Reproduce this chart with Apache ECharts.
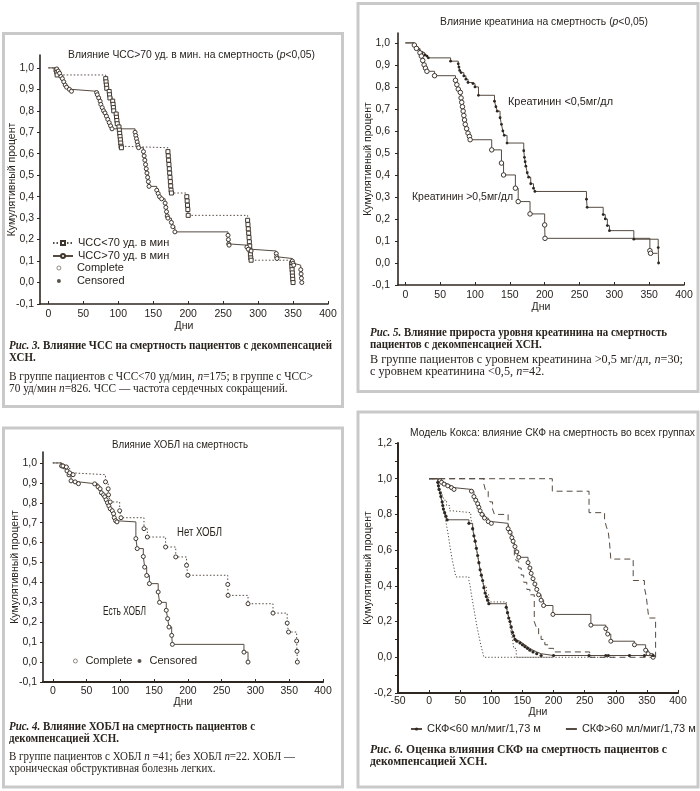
<!DOCTYPE html>
<html><head><meta charset="utf-8">
<script src="https://cdn.jsdelivr.net/npm/echarts@6/dist/echarts.min.js"></script>
<style>html,body{margin:0;padding:0;background:#fff}#c{width:700px;height:791px}</style>
</head><body><div id="c"></div>
<script>
// ---------- tick labels ----------
const xTicks = [0, 50, 100, 150, 200, 250, 300, 350, 400];
const yTicks = [-0.1, 0, 0.1, 0.2, 0.3, 0.4, 0.5, 0.6, 0.7, 0.8, 0.9, 1.0];

// ---------- Рис. 3: ЧСС ----------
const hrLowEvents = [[11,0.99],[12,0.98],[12.5,0.967],[82,0.95],[82.5,0.935],[83,0.92],[83.5,0.905],[87,0.89],[87.5,0.875],[88,0.86],[92,0.845],[92.5,0.83],[93,0.815],[93.5,0.8],[97,0.785],[97.5,0.77],[98,0.755],[98.5,0.74],[101,0.725],[101.5,0.71],[102,0.695],[102.5,0.68],[103,0.665],[103.5,0.65],[104,0.635],[104.5,0.628],[171,0.61],[171.5,0.59],[172,0.57],[172.5,0.55],[173,0.53],[173.5,0.51],[174,0.49],[174.5,0.47],[175,0.45],[175.5,0.43],[176,0.417],[198,0.4],[198.5,0.38],[199,0.36],[199.5,0.34],[200,0.313],[285,0.29],[285.5,0.27],[286,0.25],[286.5,0.23],[287,0.21],[287.5,0.19],[288,0.17],[288.5,0.15],[289,0.13],[289.5,0.115],[290,0.104],[348,0.09],[348.3,0.075],[348.6,0.06],[349,0.045],[349.3,0.03],[349.6,0.015],[350,0.0]];
const hrHighEvents = [[12,0.995],[14,0.985],[16,0.975],[18,0.96],[20,0.95],[22,0.935],[24,0.92],[26,0.91],[30,0.9],[33,0.891],[69,0.885],[70,0.875],[72,0.86],[74,0.845],[75,0.83],[77,0.815],[79,0.8],[81,0.79],[83,0.775],[85,0.76],[87,0.745],[89,0.73],[91,0.716],[124,0.7],[125,0.685],[126,0.67],[127,0.655],[128,0.64],[129,0.628],[136,0.61],[137,0.59],[138,0.57],[139,0.55],[140,0.53],[141,0.51],[142,0.49],[143,0.47],[144,0.448],[155,0.43],[157,0.415],[159,0.4],[162,0.39],[167,0.37],[168,0.35],[169,0.33],[170,0.31],[171,0.3],[176,0.28],[178,0.26],[181,0.236],[257,0.22],[257.5,0.2],[258,0.18],[258.5,0.174],[284,0.165],[286,0.155],[290,0.147],[326,0.135],[326.5,0.12],[327,0.112],[349,0.1],[350,0.09],[351,0.081],[361,0.06],[361.5,0.04],[362,0.02],[362.5,0.0]];

// ---------- Рис. 5: креатинин ----------
const creatLowEvents = [[13,0.99],[15,0.98],[17,0.97],[21,0.96],[24,0.955],[28,0.945],[31,0.94],[33,0.932],[65,0.917],[76,0.905],[77,0.89],[78,0.875],[80,0.865],[84,0.85],[87,0.835],[90,0.82],[97,0.815],[100,0.8],[105,0.762],[128,0.735],[130,0.71],[132,0.69],[136,0.66],[138,0.63],[140,0.6],[142,0.58],[146,0.545],[170,0.51],[171,0.48],[172,0.46],[173,0.44],[175,0.41],[177,0.39],[180,0.36],[184,0.34],[186,0.325],[260,0.29],[261,0.253],[284,0.22],[287,0.2],[290,0.17],[293,0.147],[328,0.108],[363,0.07],[363.5,0.0]];
const creatHighEvents = [[13,0.99],[16,0.975],[21,0.955],[23,0.94],[25,0.92],[27,0.9],[29,0.885],[31,0.871],[42,0.851],[72,0.83],[74,0.81],[76,0.79],[79,0.775],[80,0.75],[81,0.73],[82,0.71],[83,0.69],[84,0.67],[85,0.65],[86,0.63],[88,0.61],[90,0.59],[92,0.575],[93,0.56],[124,0.514],[138,0.454],[141,0.4],[158,0.34],[162,0.279],[179,0.223],[200,0.173],[200.5,0.112],[351,0.056],[352,0.044]];
const creatHighEnd = 362;

// ---------- Рис. 4: ХОБЛ ----------
const copdYesEvents = [[13,0.985],[17,0.98],[21,0.96],[24,0.94],[27,0.91],[33,0.905],[38,0.896],[62,0.895],[67,0.88],[70,0.87],[72,0.85],[75,0.84],[77,0.83],[79,0.815],[81,0.8],[83,0.785],[85,0.77],[88,0.76],[90,0.745],[91,0.725],[93,0.71],[95,0.704],[123,0.62],[125,0.57],[134,0.53],[136,0.477],[139,0.435],[143,0.394],[156,0.352],[158,0.3],[168,0.26],[170,0.218],[172,0.176],[176,0.134],[177,0.089],[283,0.05],[289,0.0]];
const copdNoEvents = [[15,0.985],[20,0.98],[25,0.95],[30,0.941],[78,0.905],[82,0.87],[82.5,0.84],[85,0.804],[99,0.76],[101,0.725],[135,0.67],[140,0.628],[167,0.578],[182,0.528],[198,0.486],[200,0.436],[259,0.39],[259.5,0.335],[289,0.293],[326,0.246],[347,0.196],[349,0.151],[361,0.106],[361.5,0.054],[362,0.0]];

// ---------- Рис. 6: СКФ (модель Кокса) ----------
const coxXTicks = [-50, 0, 50, 100, 150, 200, 250, 300, 350, 400];
const gfrLowEvents = [[14,0.98],[15,0.96],[16,0.94],[18,0.92],[19,0.9],[21,0.87],[22,0.85],[23,0.83],[25,0.81],[27,0.79],[29,0.77],[64,0.75],[70,0.72],[72,0.68],[74,0.65],[76,0.61],[78,0.57],[80,0.53],[82,0.49],[84,0.46],[86,0.43],[88,0.39],[90,0.36],[92,0.34],[94,0.32],[96,0.3],[124,0.28],[126,0.25],[128,0.22],[130,0.2],[132,0.17],[134,0.14],[136,0.12],[138,0.1],[141,0.09],[146,0.08],[150,0.07],[154,0.06],[158,0.05],[162,0.04],[167,0.03],[173,0.02],[180,0.01],[200,0.01],[257,0.01],[284,0.01],[288,0.01],[322,0.01],[346,0.01],[360,0.01]];
const gfrHighEvents = [[20,0.98],[24,0.97],[30,0.96],[36,0.95],[40,0.94],[68,0.93],[72,0.9],[75,0.88],[78,0.86],[80,0.84],[82,0.82],[85,0.8],[89,0.78],[95,0.76],[100,0.75],[127,0.72],[130,0.7],[133,0.67],[135,0.65],[138,0.62],[141,0.59],[144,0.56],[159,0.53],[162,0.5],[164,0.47],[167,0.44],[170,0.41],[173,0.38],[176,0.35],[180,0.32],[184,0.29],[199,0.24],[260,0.18],[284,0.16],[287,0.13],[292,0.09],[330,0.07],[348,0.04],[352,0.02],[360,0.0]];
const gfrHighUpper = [[198,0.93],[257,0.81],[282,0.77],[285,0.73],[288,0.7],[290,0.64],[292,0.55],[328,0.43],[346,0.39],[349,0.34],[351,0.28],[353,0.22],[364,0.0]];
const gfrHighLower = [[88,0.97],[91,0.93],[95,0.9],[98,0.87],[102,0.83],[105,0.8],[127,0.75],[129,0.7],[133,0.64],[137,0.57],[140,0.54],[144,0.5],[148,0.46],[152,0.42],[157,0.38],[162,0.35],[169,0.2],[172,0.17],[176,0.13],[180,0.1],[186,0.07],[192,0.05],[200,0.03],[258,0.0]];
const gfrHighLowerEnd = 362;
const gfrLowLower = [[14,0.97],[17,0.93],[19,0.89],[22,0.85],[25,0.8],[28,0.74],[31,0.68],[34,0.61],[37,0.55],[40,0.5],[43,0.45],[64,0.43],[66,0.4],[68,0.35],[71,0.29],[74,0.23],[77,0.17],[80,0.12],[83,0.07],[86,0.03],[88,0.0]];
const gfrLowLowerEnd = 300;
const gfrLowUpper = [[15,0.97],[18,0.94],[21,0.91],[24,0.88],[28,0.85],[33,0.82],[38,0.81],[67,0.78],[70,0.73],[73,0.67],[76,0.61],[79,0.55],[82,0.49],[85,0.44],[88,0.4],[92,0.35],[96,0.31],[124,0.29],[127,0.25],[129,0.2],[131,0.15],[134,0.1],[136,0.05],[140,0.0]];
const gfrLowUpperEnd = 200;

// ---------- styles ----------
const LINE = '#554b42', AXIS = '#2e2721', TXT = '#2a241f';
const SANS = '"Liberation Sans", Arial, sans-serif';
const SERIF = '"Liberation Serif", "Times New Roman", serif';

function km(events, end) {
  const d = [{ value: [0, 1], symbol: 'none' }];
  events.forEach(p => d.push(p));
  if (end != null) d.push({ value: [end, events[events.length - 1][1]], symbol: 'none' });
  return d;
}
const fmt = v => v.toFixed(1).replace('.', ',');

function xAx(g, min, max, opts) {
  return {
    type: 'value', gridIndex: g, min, max, name: 'Дни', nameLocation: 'middle', nameGap: opts.nameGap, nameMoveOverlap: false,
    nameTextStyle: { fontFamily: SANS, fontSize: 10.5, color: TXT },
    axisLine: { onZero: false, lineStyle: { color: AXIS, width: opts.lw || 1.6 } },
    axisTick: { inside: true, length: 3, customValues: opts.ticks, lineStyle: { color: AXIS, width: 1 } },
    axisLabel: { customValues: opts.ticks, margin: opts.margin, fontFamily: SANS, fontSize: 10.5, color: TXT },
    splitLine: { show: false }
  };
}
function yAx(g, min, max, opts) {
  const a = {
    type: 'value', gridIndex: g, min, max, name: 'Кумулятивный процент', nameLocation: 'middle', nameGap: opts.nameGap, nameMoveOverlap: false,
    nameTextStyle: { fontFamily: SANS, fontSize: 10.5, color: TXT },
    axisLine: { onZero: false, lineStyle: { color: AXIS, width: opts.lw || 1.6 } },
    axisTick: { inside: false, length: 3, lineStyle: { color: AXIS, width: 1 } },
    axisLabel: { margin: opts.margin, fontFamily: SANS, fontSize: 10.5, color: TXT, formatter: fmt },
    splitLine: { show: false }
  };
  if (opts.ticks) { a.axisTick.customValues = opts.ticks; a.axisLabel.customValues = opts.ticks; }
  return Object.assign(a, opts.extra || {});
}

// open markers: white fill with an outline; filled markers: dark fill
function kmSeries(name, g, data, sym, size, lineType, filled) {
  const open = sym !== 'none' && !filled;
  return {
    name, type: 'line', xAxisIndex: g, yAxisIndex: g, step: 'end', data,
    symbol: sym, symbolSize: size, showSymbol: sym !== 'none', silent: true, animation: false,
    lineStyle: { color: LINE, width: 1, type: lineType },
    itemStyle: open ? { color: '#fff', borderColor: '#3f362e', borderWidth: 1 }
                    : { color: AXIS, borderColor: AXIS, borderWidth: 0 }
  };
}

const mctx = document.createElement('canvas').getContext('2d');
function tw(t, f) { mctx.font = f; return mctx.measureText(t).width; }
function natural(parts) { return parts.reduce((s, p) => s + tw(p[0], p[1]), 0); }
function textLine(parts, x, y, scale) {
  let cx = 0;
  const children = parts.map(p => {
    const el = { type: 'text', x: cx, y: 0, style: { text: p[0], font: p[1], fill: TXT, verticalAlign: 'middle', textVerticalAlign: 'middle' } };
    cx += tw(p[0], p[1]);
    return el;
  });
  return { type: 'group', x, y, scaleX: scale, children };
}
function fitLine(parts, x, y, w) { return textLine(parts, x, y, w / natural(parts)); }

const CB = 'bold 12.5px ' + SERIF, CBI = 'italic bold 12.5px ' + SERIF;
const CN = '12.5px ' + SERIF, CI = 'italic 12.5px ' + SERIF;
const S = '11px ' + SANS, SI = 'italic 11px ' + SANS, S12 = '12px ' + SANS;

const graphics = [];
// panel frames
[[3.5, 33.5, 339, 373], [358, 3.5, 340, 388], [3.5, 428, 339, 359], [358, 412, 340, 375]].forEach(r => {
  graphics.push({ type: 'rect', shape: { x: r[0], y: r[1], width: r[2], height: r[3] }, style: { fill: 'none', stroke: '#c9c9c9', lineWidth: 3 }, silent: true });
});
// chart titles
graphics.push(fitLine([['Влияние ЧСС>70 уд. в мин. на смертность (', S], ['p', SI], ['<0,05)', S]], 68, 55, 247));
graphics.push(fitLine([['Влияние креатиниа на смертность (', S], ['p', SI], ['<0,05)', S]], 440, 22, 208));
graphics.push(fitLine([['Влияние ХОБЛ на смертность', S]], 112, 445, 136));
graphics.push(fitLine([['Модель Кокса: влияние СКФ на смертность во всех группах', S]], 410, 433, 285));
// in-plot labels
graphics.push(fitLine([['Креатинин <0,5мг/дл', S]], 508, 102, 105));
graphics.push(fitLine([['Креатинин >0,5мг/дл', S]], 412, 197, 101));
graphics.push(fitLine([['Нет ХОБЛ', S12]], 177, 533, 45));
graphics.push(fitLine([['Есть ХОБЛ', S12]], 103, 612, 43));

// captions
function cap(x, yHead, headParts, headW, head2Parts, bodyParts, bodyW, body2Parts, yBody) {
  const s1 = headW / natural(headParts);
  graphics.push(textLine(headParts, x, yHead, s1));
  if (head2Parts) graphics.push(textLine(head2Parts, x, yHead + 12, s1));
  if (bodyParts) {
    const s2 = bodyW / natural(bodyParts);
    graphics.push(textLine(bodyParts, x, yBody, s2));
    if (body2Parts) graphics.push(textLine(body2Parts, x, yBody + 12, s2));
  }
}
cap(9, 346, [['Рис. 3.', CBI], [' Влияние ЧСС на смертность пациентов с декомпенсацией', CB]], 323, [['ХСН.', CB]],
  [['В группе пациентов с ЧСС<70 уд/мин, ', CN], ['n', CI], ['=175; в группе с ЧСС>', CN]], 304,
  [['70 уд/мин ', CN], ['n', CI], ['=826. ЧСС — частота сердечных сокращений.', CN]], 377);
cap(370, 333, [['Рис. 5.', CBI], [' Влияние прироста уровня креатинина на смертность', CB]], 297, [['пациентов с декомпенсацией ХСН.', CB]],
  [['В группе пациентов с уровнем креатинина >0,5 мг/дл, ', CN], ['n', CI], ['=30;', CN]], 313,
  [['с уровнем креатинина <0,5, ', CN], ['n', CI], ['=42.', CN]], 360);
cap(9, 727, [['Рис. 4.', CBI], [' Влияние ХОБЛ на смертность пациентов с', CB]], 246, [['декомпенсацией ХСН.', CB]],
  [['В группе пациентов с ХОБЛ ', CN], ['n', CI], [' =41; без ХОБЛ ', CN], ['n', CI], ['=22. ХОБЛ —', CN]], 286,
  [['хроническая обструктивная болезнь легких.', CN]], 757);
cap(370, 750, [['Рис. 6.', CBI], [' Оценка влияния СКФ на смертность пациентов с', CB]], 297, [['декомпенсацией ХСН.', CB]], null);

const legendText = { fontFamily: SANS, fontSize: 11, color: TXT, lineHeight: 12 };

const option = {
  backgroundColor: '#fff',
  animation: false,
  grid: [
    { left: 40, right: 372, top: 55, bottom: 487, outerBoundsMode: 'none' },
    { left: 398, right: 16, top: 33, bottom: 506, outerBoundsMode: 'none' },
    { left: 43, right: 377, top: 452, bottom: 109, outerBoundsMode: 'none' },
    { left: 398, right: 22, top: 443, bottom: 98, outerBoundsMode: 'none' }
  ],
  xAxis: [
    xAx(0, -12, 400, { ticks: xTicks, nameGap: 17, margin: 5 }),
    xAx(1, -10.5, 400, { ticks: xTicks, nameGap: 17, margin: 5 }),
    xAx(2, -14.5, 400, { ticks: xTicks, nameGap: 15, margin: 4, lw: 2.2 }),
    xAx(3, -50, 400, { ticks: coxXTicks, nameGap: 14, margin: 3, lw: 2 })
  ],
  yAxis: [
    yAx(0, -0.1, 1.06, { ticks: yTicks, nameGap: 22, margin: 6 }),
    yAx(1, -0.1, 1.045, { ticks: yTicks, nameGap: 24, margin: 8 }),
    yAx(2, -0.1, 1.055, { ticks: yTicks, nameGap: 22, margin: 6 }),
    yAx(3, -0.2, 1.2, { nameGap: 24, margin: 6, lw: 2, extra: { interval: 0.2, minorTick: { show: true, splitNumber: 2, length: 3, lineStyle: { color: AXIS } } } })
  ],
  legend: [
    { left: 52, top: 237, orient: 'vertical', padding: 0, itemGap: 1, itemWidth: 20, itemHeight: 5, selectedMode: false,
      data: ['ЧСС<70 уд. в мин', 'ЧСС>70 уд. в мин'], textStyle: legendText },
    { left: 56.5, top: 262, orient: 'vertical', padding: 0, itemGap: 1, itemWidth: 4, itemHeight: 4, selectedMode: false,
      itemStyle: { borderWidth: 0.8 },
      data: ['Complete', 'Censored'], textStyle: Object.assign({ padding: [0, 0, 0, 11] }, legendText) },
    { left: 73, top: 655, orient: 'horizontal', padding: 0, itemGap: 5, itemWidth: 4, itemHeight: 4, selectedMode: false,
      itemStyle: { borderWidth: 0.8 },
      data: ['Complete', 'Censored'], textStyle: Object.assign({ padding: [0, 0, 0, 3] }, legendText) },
    { left: 410, top: 723, orient: 'horizontal', padding: 0, itemGap: 24, itemWidth: 11, itemHeight: 4, selectedMode: false,
      data: [{ name: 'СКФ<60 мл/миг/1,73 м' }, { name: 'СКФ>60 мл/миг/1,73 м', itemStyle: { opacity: 0 } }],
      textStyle: legendText }
  ],
  series: [
    kmSeries('ЧСС<70 уд. в мин', 0, km(hrLowEvents, null), 'rect', 4, [1.5, 2]),
    kmSeries('ЧСС>70 уд. в мин', 0, km(hrHighEvents, null), 'circle', 4, 'solid'),
    { name: 'Complete', type: 'scatter', xAxisIndex: 0, yAxisIndex: 0, data: [], symbol: 'circle', symbolSize: 4, itemStyle: { color: '#fff', borderColor: LINE, borderWidth: 0.8 } },
    { name: 'Censored', type: 'scatter', xAxisIndex: 0, yAxisIndex: 0, data: [], symbol: 'circle', symbolSize: 3, itemStyle: { color: AXIS } },

    kmSeries('Креатинин <0,5', 1, km(creatLowEvents, null), 'circle', 2.8, 'solid', true),
    kmSeries('Креатинин >0,5', 1, km(creatHighEvents, creatHighEnd), 'circle', 4.5, 'solid'),

    kmSeries('Есть ХОБЛ', 2, km(copdYesEvents, null), 'circle', 4, 'solid'),
    kmSeries('Нет ХОБЛ', 2, km(copdNoEvents, null), 'circle', 4, [1.5, 2]),

    kmSeries('СКФ>60 верхняя граница', 3, km(gfrHighUpper, null), 'none', 0, [6, 4]),
    kmSeries('СКФ>60 нижняя граница', 3, km(gfrHighLower, gfrHighLowerEnd), 'none', 0, [6, 4]),
    kmSeries('СКФ<60 нижняя граница', 3, km(gfrLowLower, gfrLowLowerEnd), 'none', 0, [1.2, 2]),
    kmSeries('СКФ<60 верхняя граница', 3, km(gfrLowUpper, gfrLowUpperEnd), 'none', 0, [1.2, 2]),
    kmSeries('СКФ>60 мл/миг/1,73 м', 3, km(gfrHighEvents, null), 'circle', 4, 'solid'),
    kmSeries('СКФ<60 мл/миг/1,73 м', 3, km(gfrLowEvents, null), 'circle', 3.2, 'solid', true)
  ],
  graphic: graphics
};

const chart = echarts.init(document.getElementById('c'), null, { renderer: 'canvas', width: 700, height: 791 });
chart.setOption(option);
</script></body></html>
